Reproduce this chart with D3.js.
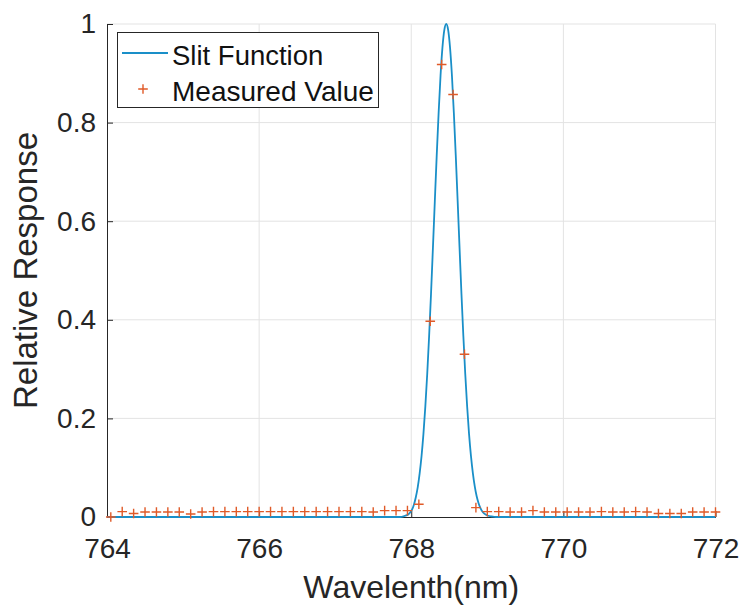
<!DOCTYPE html>
<html>
<head>
<meta charset="utf-8">
<script src="https://cdn.jsdelivr.net/npm/d3@7"></script>
<style>
  html, body { margin: 0; padding: 0; background: #fff; }
  svg { display: block; font-family: "Liberation Sans", Arial, Helvetica, sans-serif; }
</style>
</head>
<body>
<svg id="chart" width="743" height="607"></svg>
<script>
// ---- Data ----
const xTicks = [764, 766, 768, 770, 772];
const yTicks = [0, 0.2, 0.4, 0.6, 0.8, 1];
const yTickLabels = ["0", "0.2", "0.4", "0.6", "0.8", "1"];

// Slit function curve (wavelength nm, relative response)
const slitX = [764.0, 767.86, 767.91, 767.96, 767.985, 768.01, 768.035, 768.06, 768.085, 768.11,
  768.135, 768.16, 768.185, 768.21, 768.235, 768.26, 768.285, 768.31, 768.335, 768.36,
  768.385, 768.41, 768.435, 768.46, 768.485, 768.51, 768.535, 768.56, 768.585, 768.61,
  768.635, 768.66, 768.685, 768.71, 768.735, 768.76, 768.785, 768.81, 768.835, 768.86,
  768.885, 768.91, 768.935, 768.96, 769.01, 769.06, 769.11, 772.0];
const slitY = [0, 0.000, 0.002, 0.005, 0.009, 0.015, 0.025, 0.040, 0.060, 0.088,
  0.123, 0.168, 0.224, 0.290, 0.367, 0.453, 0.546, 0.641, 0.734, 0.820,
  0.895, 0.952, 0.988, 1.000, 0.988, 0.952, 0.895, 0.820, 0.734, 0.641,
  0.546, 0.453, 0.367, 0.290, 0.224, 0.168, 0.124, 0.089, 0.062, 0.042,
  0.028, 0.018, 0.011, 0.007, 0.0025, 0.001, 0, 0];

// Measured values
const measX = [764.05, 764.2, 764.35, 764.5, 764.65, 764.8, 764.95, 765.1, 765.25, 765.4,
  765.55, 765.7, 765.85, 766.0, 766.15, 766.3, 766.45, 766.6, 766.75, 766.9,
  767.05, 767.2, 767.35, 767.5, 767.65, 767.8, 767.95,
  768.1, 768.25, 768.4, 768.55, 768.7, 768.85,
  769.0, 769.15, 769.3, 769.45, 769.6, 769.75, 769.9, 770.05, 770.2, 770.35,
  770.5, 770.65, 770.8, 770.95, 771.1, 771.25, 771.4, 771.55, 771.7, 771.85, 772.0];
const measY = [0.000, 0.011, 0.007, 0.010, 0.010, 0.010, 0.010, 0.006, 0.010, 0.011,
  0.011, 0.011, 0.011, 0.011, 0.011, 0.011, 0.011, 0.011, 0.011, 0.011,
  0.011, 0.011, 0.011, 0.010, 0.013, 0.013, 0.013,
  0.026, 0.397, 0.918, 0.857, 0.330, 0.019,
  0.011, 0.011, 0.010, 0.010, 0.013, 0.010, 0.010, 0.010, 0.010, 0.010,
  0.011, 0.010, 0.010, 0.011, 0.010, 0.007, 0.007, 0.007, 0.010, 0.010, 0.010];

const seriesNames = ["Slit Function", "Measured Value"];
const xLabel = "Wavelenth(nm)";
const yLabel = "Relative Response";

// ---- Layout ----
const svg = d3.select("#chart");
const L = 107, R = 715.5, T = 24, B = 517;
const blue = "#1a8fc8", orange = "#e05a28", axisCol = "#262626", gridCol = "#e3e3e3";

const x = d3.scaleLinear().domain([764, 772]).range([L, R]);
const y = d3.scaleLinear().domain([0, 1]).range([B, T]);

// Grid
const grid = svg.append("g");
grid.selectAll("line.gx").data(xTicks.slice(1)).enter().append("line")
  .attr("x1", d => x(d)).attr("x2", d => x(d)).attr("y1", T).attr("y2", B)
  .attr("stroke", gridCol).attr("stroke-width", 1);
grid.selectAll("line.gy").data(yTicks.slice(1)).enter().append("line")
  .attr("x1", L).attr("x2", R).attr("y1", d => y(d)).attr("y2", d => y(d))
  .attr("stroke", gridCol).attr("stroke-width", 1);

// Axes
const xAxis = d3.axisBottom(x).tickValues(xTicks).tickSizeInner(-6).tickSizeOuter(0).tickPadding(14)
  .tickFormat(d3.format("d"));
const gx = svg.append("g").attr("transform", `translate(0,${B})`).call(xAxis);
gx.select(".domain").attr("stroke", axisCol);
gx.selectAll(".tick line").attr("stroke", axisCol);
gx.selectAll(".tick text").attr("fill", axisCol).attr("font-size", 28)
  .attr("font-family", "'Liberation Sans', Arial, sans-serif").attr("dy", "0.71em").attr("y", 21);

const yAxis = d3.axisLeft(y).tickValues(yTicks).tickSizeInner(-6).tickSizeOuter(0).tickPadding(12)
  .tickFormat((d, i) => yTickLabels[i]);
const gy = svg.append("g").attr("transform", `translate(${L},0)`).call(yAxis);
gy.select(".domain").attr("stroke", axisCol);
gy.selectAll(".tick line").attr("stroke", axisCol);
gy.selectAll(".tick text").attr("fill", axisCol).attr("font-size", 28)
  .attr("font-family", "'Liberation Sans', Arial, sans-serif").attr("x", -11);

// Curve
const curveData = slitX.map((d, i) => [d, slitY[i]]);
svg.append("path").datum(curveData)
  .attr("fill", "none").attr("stroke", blue).attr("stroke-width", 1.8)
  .attr("d", d3.line().x(d => x(d[0])).y(d => y(d[1])).curve(d3.curveMonotoneX));

// Markers
const meas = measX.map((d, i) => [d, measY[i]]);
const ms = 4.8;
svg.append("g").selectAll("path").data(meas).enter().append("path")
  .attr("d", d => `M${x(d[0]) - ms},${y(d[1])}H${x(d[0]) + ms}M${x(d[0])},${y(d[1]) - ms}V${y(d[1]) + ms}`)
  .attr("stroke", orange).attr("stroke-width", 1.4).attr("fill", "none");

// Axis labels
svg.append("text").attr("x", (L + R) / 2).attr("y", 598).attr("text-anchor", "middle")
  .attr("font-size", 32).attr("fill", axisCol).text(xLabel);
svg.append("text").attr("transform", `translate(37,${(T + B) / 2}) rotate(-90)`)
  .attr("text-anchor", "middle").attr("font-size", 33).attr("fill", axisCol).text(yLabel);

// Legend
const lg = svg.append("g");
lg.append("rect").attr("x", 117.5).attr("y", 32.5).attr("width", 261).attr("height", 75)
  .attr("fill", "#fff").attr("stroke", axisCol).attr("stroke-width", 1);
lg.append("line").attr("x1", 122).attr("x2", 168).attr("y1", 53).attr("y2", 53)
  .attr("stroke", blue).attr("stroke-width", 1.8);
lg.append("path")
  .attr("d", `M${143 - ms},89H${143 + ms}M143,${89 - ms}V${89 + ms}`)
  .attr("stroke", orange).attr("stroke-width", 1.4);
lg.append("text").attr("x", 172).attr("y", 64.5).attr("font-size", 27.5).attr("fill", "#111").text(seriesNames[0]);
lg.append("text").attr("x", 172).attr("y", 100.5).attr("font-size", 28).attr("fill", "#111").text(seriesNames[1]);
</script>
</body>
</html>
